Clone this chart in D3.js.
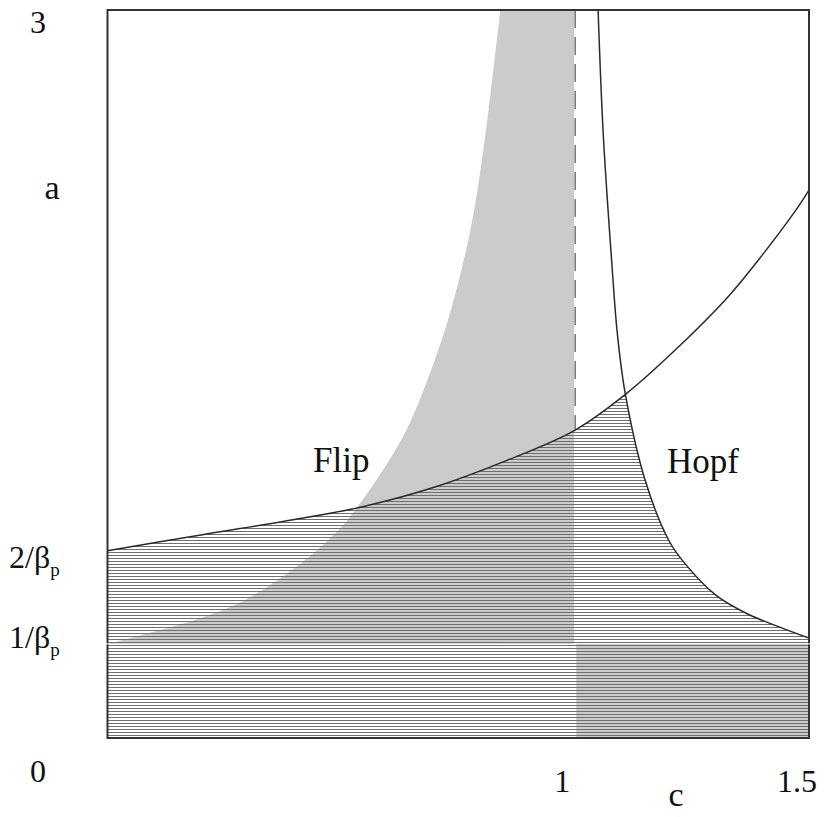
<!DOCTYPE html>
<html>
<head>
<meta charset="utf-8">
<script src="https://cdn.jsdelivr.net/npm/d3@7"></script>
<style>
  html, body { margin: 0; padding: 0; background: #fff; }
  text { font-family: "Liberation Serif", "Times New Roman", serif; fill: #111; }
</style>
</head>
<body>
<svg id="chart" width="826" height="817"></svg>
<script>
// bifurcation diagram, c on x, a on y
var invBeta = 0.388;   // 1/beta_p

// rising boundary (upper limit of hatched area)
var risingC = [0, 0.2, 0.4, 0.55, 0.7, 0.85, 1.0, 1.11, 1.22, 1.33, 1.4, 1.47, 1.5];
var risingA = [0.772, 0.837, 0.90, 0.955, 1.034, 1.141, 1.269, 1.42, 1.61, 1.825, 1.99, 2.17, 2.258];

// Hopf curve
var hopfC = [1.049, 1.06, 1.079, 1.09, 1.107, 1.15, 1.2, 1.23, 1.3, 1.37, 1.44, 1.5];
var hopfA = [3.0, 2.49, 1.94, 1.67, 1.42, 1.06, 0.815, 0.73, 0.59, 0.51, 0.455, 0.412];

// flip curve (edge of the grey region)
var flipC = [0, 0.2, 0.3, 0.41, 0.48, 0.53, 0.63, 0.68, 0.73, 0.77, 0.79, 0.815, 0.84];
var flipA = [0.388, 0.495, 0.575, 0.715, 0.83, 0.94, 1.235, 1.455, 1.735, 2.04, 2.245, 2.59, 3.0];

var yTickVals = [3, 2 * invBeta, invBeta, 0];
var yTickNum = ["3", "2/β", "1/β", "0"];
var yTickSub = ["", "p", "p", ""];
var xTickVals = [1, 1.5];
var xTickLabels = ["1", "1.5"];

var svg = d3.select("#chart");

var x = d3.scaleLinear().domain([0, 1.5]).range([107.5, 809]);
var y = d3.scaleLinear().domain([0, 3]).range([738, 10]);

function pts(cs, as) {
  return cs.map(function(c, i) { return { c: c, a: as[i] }; });
}
var rising = pts(risingC, risingA),
    hopf = pts(hopfC, hopfA),
    flip = pts(flipC, flipA);

var smooth = d3.curveCatmullRom.alpha(0.5);

var line = d3.line()
  .x(function(d) { return x(d.c); })
  .y(function(d) { return y(d.a); })
  .curve(smooth);

var defs = svg.append("defs");

defs.append("clipPath").attr("id", "plot")
  .append("rect")
  .attr("x", x(0)).attr("y", y(3))
  .attr("width", x(1.5) - x(0)).attr("height", y(0) - y(3));

var hatch = defs.append("pattern")
  .attr("id", "hatch")
  .attr("patternUnits", "userSpaceOnUse")
  .attr("width", 6).attr("height", 3);
hatch.append("rect")
  .attr("x", 0).attr("y", 0).attr("width", 6).attr("height", 1)
  .attr("fill", "#707070");

// area under the rising curve
defs.append("clipPath").attr("id", "underRising")
  .append("path")
  .attr("d", d3.area()
    .x(function(d) { return x(d.c); })
    .y0(y(0))
    .y1(function(d) { return y(d.a); })
    .curve(smooth)(rising));

// area left of / under the hopf curve
defs.append("clipPath").attr("id", "underHopf")
  .append("path")
  .attr("d", line(hopf) + "L" + x(1.5) + "," + y(0) + "L" + x(0) + "," + y(0) +
    "L" + x(0) + "," + y(3) + "Z");

var plot = svg.append("g").attr("clip-path", "url(#plot)");

var flipEnd = flipC[flipC.length - 1];

// grey region: between 1/beta and flip curve for c < 1
plot.append("path")
  .attr("fill", "#cbcbcb")
  .attr("d", d3.area()
    .x(function(d) { return x(d.c); })
    .y0(y(invBeta))
    .y1(function(d) { return y(d.a); })
    .curve(smooth)(flip));

plot.append("rect")
  .attr("fill", "#cbcbcb")
  .attr("x", x(flipEnd) - 0.5).attr("y", y(3))
  .attr("width", x(1) - x(flipEnd) + 0.5).attr("height", y(invBeta) - y(3));

// grey region: below 1/beta for c > 1
plot.append("rect")
  .attr("fill", "#cbcbcb")
  .attr("x", x(1)).attr("y", y(invBeta))
  .attr("width", x(1.5) - x(1)).attr("height", y(0) - y(invBeta));

// light line at c = 1
plot.append("line")
  .attr("x1", x(1)).attr("x2", x(1))
  .attr("y1", y(3)).attr("y2", y(0))
  .attr("stroke", "#fff").attr("stroke-width", 2);

// hatched stability region
plot.append("g").attr("clip-path", "url(#underRising)")
  .append("rect")
  .attr("clip-path", "url(#underHopf)")
  .attr("x", x(0)).attr("y", y(3))
  .attr("width", x(1.5) - x(0)).attr("height", y(0) - y(3))
  .attr("fill", "url(#hatch)");

// dashed c = 1 above the rising curve
plot.append("line")
  .attr("x1", x(1)).attr("x2", x(1))
  .attr("y1", y(3)).attr("y2", y(risingA[risingC.indexOf(1)]))
  .attr("stroke", "#7a7a7a").attr("stroke-width", 1.6)
  .attr("stroke-dasharray", "18,9");

plot.append("path")
  .attr("d", line(rising))
  .attr("fill", "none").attr("stroke", "#2a2a2a").attr("stroke-width", 1.5);

plot.append("path")
  .attr("d", line(hopf))
  .attr("fill", "none").attr("stroke", "#2a2a2a").attr("stroke-width", 1.5);

// frame
svg.append("rect")
  .attr("x", x(0)).attr("y", y(3))
  .attr("width", x(1.5) - x(0)).attr("height", y(0) - y(3))
  .attr("fill", "none").attr("stroke", "#333").attr("stroke-width", 2);

// small white notches where 1/beta meets the frame
svg.selectAll(".notch").data([0, 1.5]).enter()
  .append("line")
  .attr("class", "notch")
  .attr("x1", function(d) { return x(d) - 1.5; })
  .attr("x2", function(d) { return x(d) + 1.5; })
  .attr("y1", y(invBeta)).attr("y2", y(invBeta))
  .attr("stroke", "#fff").attr("stroke-width", 1);

// y labels
var yShift = [23, 18, 4, 44];
var yt = svg.selectAll(".ytick").data(yTickVals).enter()
  .append("text")
  .attr("class", "ytick")
  .attr("x", function(d, i) { return i === 0 || i === 3 ? 38 : 9; })
  .attr("y", function(d, i) { return y(d) + yShift[i]; })
  .attr("text-anchor", function(d, i) { return i === 0 || i === 3 ? "middle" : "start"; })
  .style("font-size", "32px");
yt.append("tspan").text(function(d, i) { return yTickNum[i]; });
yt.append("tspan")
  .attr("dy", 8)
  .style("font-size", "19px")
  .text(function(d, i) { return yTickSub[i]; });

// x labels
svg.selectAll(".xtick").data(xTickVals).enter()
  .append("text")
  .attr("class", "xtick")
  .attr("x", function(d) { return x(d) - (d === 1 ? 13 : 12); })
  .attr("y", 792)
  .attr("text-anchor", "middle")
  .style("font-size", "32px")
  .text(function(d, i) { return xTickLabels[i]; });

svg.append("text").attr("x", 676).attr("y", 806)
  .attr("text-anchor", "middle").style("font-size", "34px").text("c");
svg.append("text").attr("x", 52).attr("y", 199)
  .attr("text-anchor", "middle").style("font-size", "34px").text("a");

svg.append("text").attr("x", 313).attr("y", 472)
  .style("font-size", "35px").text("Flip");
svg.append("text").attr("x", 667).attr("y", 473)
  .style("font-size", "35px").text("Hopf");
</script>
</body>
</html>
